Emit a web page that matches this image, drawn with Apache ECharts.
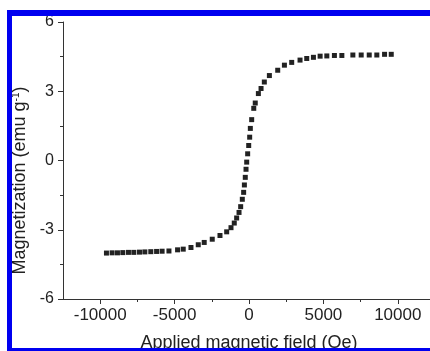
<!DOCTYPE html>
<html>
<head>
<meta charset="utf-8">
<script src="https://cdn.jsdelivr.net/npm/echarts@6/dist/echarts.min.js"></script>
<style>
  html, body { margin: 0; padding: 0; background: #fff; }
  #main { width: 430px; height: 351px; }
</style>
</head>
<body>
<div id="main"></div>
<script>
// applied field (Oe) and magnetization (emu/g)
const fieldOe = [
  -9580, -9200, -8840, -8480, -8100, -7740, -7360, -7000, -6600, -6210,
  -5840, -5380, -4800, -4420, -3900, -3410, -3010, -2470, -1950, -1500,
  -1210, -990, -830, -670, -560, -450, -360, -310, -250, -200,
  -155, -90, -20, 45, 90, 180, 320, 420, 630, 810,
  1030, 1370, 1930, 2380, 2870, 3430, 3880, 4330, 4780, 5230,
  5740, 6240, 6980, 7540, 8080, 8590, 9110, 9560
];
const magnetization = [
  -4.01, -4.00, -4.00, -3.99, -3.98, -3.98, -3.97, -3.96, -3.95, -3.94,
  -3.93, -3.92, -3.87, -3.84, -3.77, -3.65, -3.55, -3.41, -3.25, -3.09,
  -2.91, -2.71, -2.49, -2.25, -2.00, -1.68, -1.38, -1.06, -0.73, -0.38,
  -0.07, 0.29, 0.65, 1.01, 1.39, 1.77, 2.26, 2.49, 2.90, 3.12,
  3.40, 3.68, 3.91, 4.13, 4.25, 4.35, 4.42, 4.47, 4.52, 4.53,
  4.55, 4.55, 4.57, 4.57, 4.57, 4.57, 4.60, 4.60
];
const xMajorTicks = [-10000, -5000, 0, 5000, 10000];
const xMinorTicks = [-7500, -2500, 2500, 7500];

const font = "'Liberation Sans', Arial, sans-serif";
const ink = '#222';
const blue = '#0000f0';

const chart = echarts.init(document.getElementById('main'));

const option = {
  backgroundColor: '#fff',
  animation: false,
  textStyle: { fontFamily: font },
  grid: { left: 63, top: 22, bottom: 52, right: -5, containLabel: false, outerBoundsMode: 'none' },
  xAxis: [
    {
      type: 'value',
      min: -12500,
      max: 12500,
      interval: 2500,
      name: 'Applied magnetic field (Oe)',
      nameLocation: 'middle',
      nameGap: 35,
      nameTextStyle: { fontSize: 18, color: ink, fontFamily: font },
      axisLine: { show: true, onZero: false, lineStyle: { color: '#333', width: 1 } },
      axisTick: { show: true, length: 5, customValues: xMajorTicks, lineStyle: { color: '#333' } },
      axisLabel: {
        customValues: xMajorTicks, fontSize: 17, color: ink, margin: 8, fontFamily: font,
        formatter: v => String(v)
      },
      splitLine: { show: false }
    },
    {
      type: 'value',
      min: -12500,
      max: 12500,
      interval: 2500,
      position: 'bottom',
      axisLine: { show: false, onZero: false },
      axisTick: { show: true, length: 3, customValues: xMinorTicks, lineStyle: { color: '#333' } },
      axisLabel: { show: false },
      splitLine: { show: false }
    }
  ],
  yAxis: {
    type: 'value',
    min: -6,
    max: 6,
    interval: 3,
    name: '{t|Magnetization (emu g}{s|-1}{t|)}',
    nameLocation: 'middle',
    nameGap: 29,
    nameTextStyle: {
      padding: [0, 40, 0, 0],
      rich: {
        t: { fontSize: 18, color: ink, fontFamily: font },
        s: { fontSize: 10, color: ink, fontFamily: font, verticalAlign: 'top' }
      }
    },
    axisLine: { show: true, onZero: false, lineStyle: { color: '#333', width: 1 } },
    axisTick: { show: true, length: 5, lineStyle: { color: '#333' } },
    minorTick: { show: true, splitNumber: 2, length: 3, lineStyle: { color: '#333' } },
    axisLabel: { fontSize: 16, color: ink, margin: 9, fontFamily: font, formatter: v => String(v) },
    splitLine: { show: false }
  },
  series: [
    {
      type: 'scatter',
      symbol: 'rect',
      symbolSize: 5,
      itemStyle: { color: ink, opacity: 1 },
      data: fieldOe.map((f, i) => [f, magnetization[i]])
    }
  ],
  graphic: [
    // blue frame of the cropped figure
    { type: 'rect', z: 100, shape: { x: 7, y: 10, width: 423, height: 6 }, style: { fill: blue } },
    { type: 'rect', z: 100, shape: { x: 7, y: 10, width: 5, height: 341 }, style: { fill: blue } },
    { type: 'rect', z: 100, shape: { x: 7, y: 348, width: 423, height: 3 }, style: { fill: blue } }
  ]
};

chart.setOption(option);
</script>
</body>
</html>
